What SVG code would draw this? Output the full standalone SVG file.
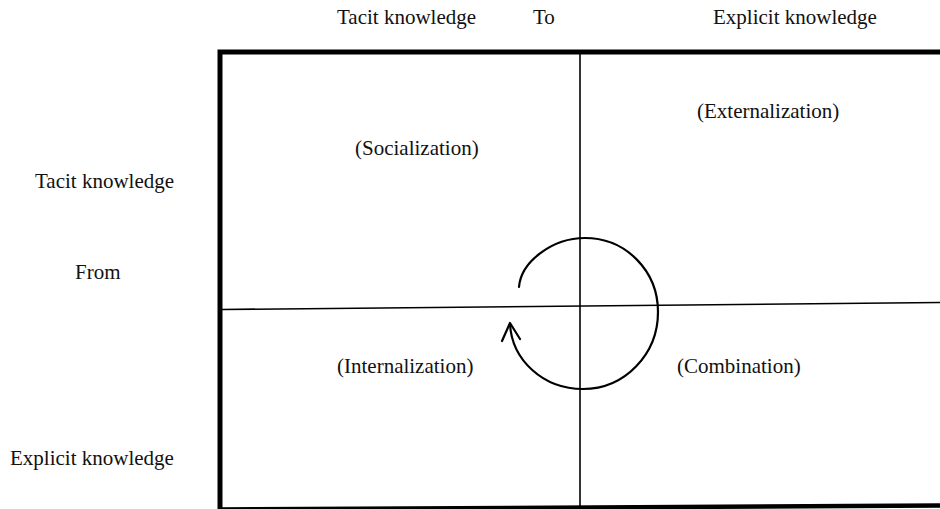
<svg xmlns="http://www.w3.org/2000/svg" width="940" height="509" viewBox="0 0 940 509">
  <style>
    .lbl { font-family: "Liberation Serif", "Times New Roman", serif; font-size: 21px; fill: #111; }
    .frame { stroke: #000; stroke-width: 5; fill: none; stroke-linecap: square; }
    .grid { stroke: #000; stroke-width: 1.6; fill: none; }
    .cycle { stroke: #000; stroke-width: 2.2; fill: none; stroke-linecap: round; stroke-linejoin: round; }
  </style>
  <rect width="940" height="509" fill="#fff"/>

  <!-- Axis headings -->
  <g id="axis-top">
    <text class="lbl" x="337" y="24">Tacit knowledge</text>
    <text class="lbl" x="533" y="24">To</text>
    <text class="lbl" x="713" y="24">Explicit knowledge</text>
  </g>
  <g id="axis-left">
    <text class="lbl" x="35" y="188">Tacit knowledge</text>
    <text class="lbl" x="75" y="279">From</text>
    <text class="lbl" x="10" y="465">Explicit knowledge</text>
  </g>

  <!-- Matrix frame and dividers -->
  <g id="matrix">
    <polyline class="frame" points="220,509 220,52 940,52"/>
    <line x1="220" y1="509.5" x2="940" y2="505.5" stroke="#000" stroke-width="4.5"/>
    <line class="grid" x1="222" y1="309.5" x2="940" y2="302.5"/>
    <line class="grid" x1="580" y1="52" x2="580" y2="507"/>
  </g>

  <!-- Quadrant labels -->
  <g id="q-socialization"><text class="lbl" x="355" y="155">(Socialization)</text></g>
  <g id="q-externalization"><text class="lbl" x="697" y="118">(Externalization)</text></g>
  <g id="q-internalization"><text class="lbl" x="337" y="373">(Internalization)</text></g>
  <g id="q-combination"><text class="lbl" x="677" y="373">(Combination)</text></g>

  <!-- Knowledge conversion cycle -->
  <g id="cycle">
    <path class="cycle" d="M519,287 C521,262 552,238 585,238 C626,238 658,271 658,312 C658,354 625,389 583,389 C543,389 512,360 510,324"/>
    <polyline class="cycle" points="502,341 510,323 520,339"/>
  </g>
</svg>
